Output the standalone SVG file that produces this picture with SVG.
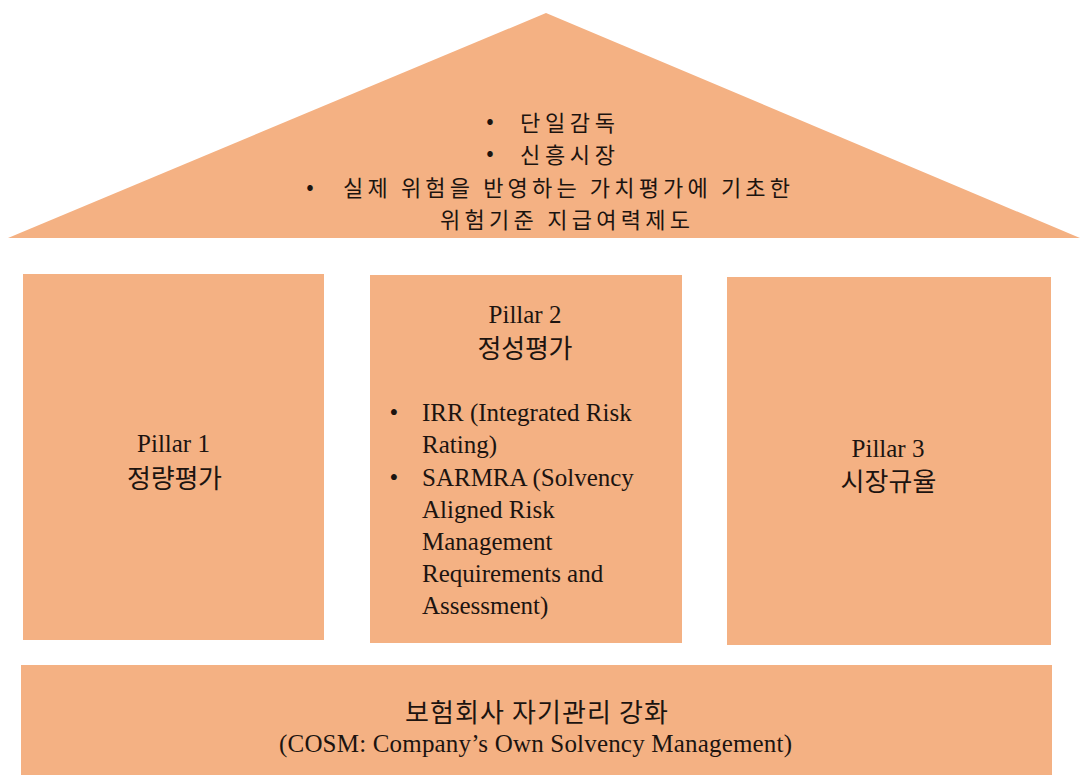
<svg xmlns="http://www.w3.org/2000/svg" width="1080" height="775" viewBox="0 0 1080 775">
<style>
.box{fill:#F4B183;}
.ko{font-family:"Noto Sans CJK KR","Noto Sans",sans-serif;font-size:22px;fill:#1c1410;}
.ko2{font-family:"Noto Sans CJK KR","Noto Sans",sans-serif;font-size:26px;fill:#1c1410;}
.en{font-family:"Liberation Serif","Noto Sans CJK KR",serif;font-size:25px;fill:#1c1410;}
.mid{text-anchor:middle;}
</style>
<rect x="0" y="0" width="1080" height="775" fill="#ffffff"/>
<g id="roof">
<polygon class="box" points="546,13 1080,238 8,238"/>
<text class="ko mid" x="490" y="128">•</text>
<text class="ko" x="520" y="131" textLength="95">단일감독</text>
<text class="ko mid" x="490" y="160">•</text>
<text class="ko" x="520" y="163" textLength="95">신흥시장</text>
<text class="ko mid" x="310" y="194">•</text>
<text class="ko" x="343" y="196" textLength="447">실제 위험을 반영하는 가치평가에 기초한</text>
<text class="ko" x="440" y="228" textLength="250">위험기준 지급여력제도</text>
</g>
<g id="pillar1">
<rect class="box" x="23" y="274" width="301" height="366"/>
<text class="en mid" x="173.5" y="452">Pillar 1</text>
<text class="ko2 mid" x="174.5" y="488" textLength="95">정량평가</text>
</g>
<g id="pillar2">
<rect class="box" x="370" y="275" width="312" height="368"/>
<text class="en mid" x="525" y="323">Pillar 2</text>
<text class="ko2 mid" x="525" y="358" textLength="95">정성평가</text>
<text class="en mid" x="394" y="421">•</text>
<text class="en" x="422" y="421">IRR (Integrated Risk</text>
<text class="en" x="422" y="453">Rating)</text>
<text class="en mid" x="394" y="486">•</text>
<text class="en" x="422" y="486">SARMRA (Solvency</text>
<text class="en" x="422" y="518">Aligned Risk</text>
<text class="en" x="422" y="550">Management</text>
<text class="en" x="422" y="582">Requirements and</text>
<text class="en" x="422" y="614">Assessment)</text>
</g>
<g id="pillar3">
<rect class="box" x="727" y="277" width="324" height="368"/>
<text class="en mid" x="888" y="457">Pillar 3</text>
<text class="ko2 mid" x="888.5" y="491" textLength="96">시장규율</text>
</g>
<g id="base">
<rect class="box" x="21" y="665" width="1031" height="110"/>
<text class="ko2 mid" x="536.5" y="722" textLength="263">보험회사 자기관리 강화</text>
<text class="en mid" x="535.5" y="752" textLength="513">(COSM: Company’s Own Solvency Management)</text>
</g>
<g id="connectors"></g>
</svg>
